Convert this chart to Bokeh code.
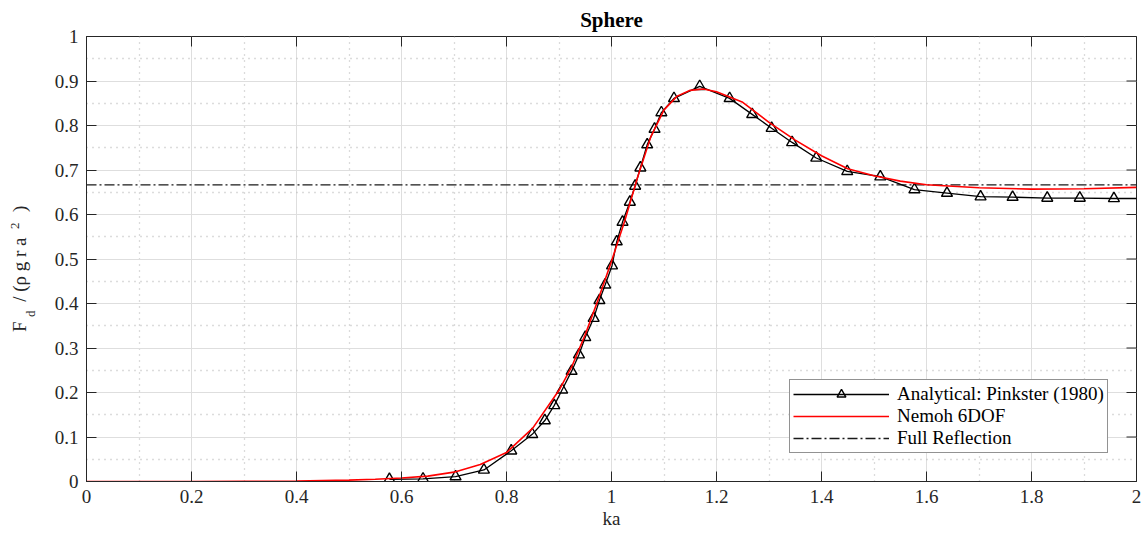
import math
import numpy as np
from bokeh.plotting import figure
from bokeh.layouts import row
from bokeh.models import (Range1d, FixedTicker, NumeralTickFormatter,
                          Legend, LegendItem)
from bokeh.core.properties import value
from bokeh.embed import file_html
from bokeh.resources import INLINE

# ---------------- data ----------------
ka_analytical = [0.577, 0.641, 0.703, 0.757, 0.809, 0.849, 0.873, 0.891, 0.906, 0.924,
                 0.938, 0.950, 0.966, 0.977, 0.988, 1.001, 1.010, 1.021, 1.035, 1.045,
                 1.055, 1.068, 1.082, 1.095, 1.119, 1.168, 1.225, 1.268, 1.305, 1.344,
                 1.390, 1.449, 1.512, 1.577, 1.639, 1.703, 1.764, 1.830, 1.892, 1.957, 2.02]
fd_analytical = [0.005, 0.006, 0.011, 0.026, 0.069, 0.106, 0.137, 0.171, 0.206, 0.248,
                 0.285, 0.324, 0.367, 0.407, 0.442, 0.485, 0.539, 0.583, 0.628, 0.664,
                 0.705, 0.757, 0.792, 0.829, 0.861, 0.888, 0.861, 0.825, 0.794, 0.762,
                 0.727, 0.697, 0.685, 0.656, 0.648, 0.640, 0.639, 0.637, 0.637, 0.636, 0.636]

ka_nemoh = [0.0, 0.1, 0.2, 0.3, 0.4, 0.5, 0.55, 0.6, 0.65, 0.7, 0.75, 0.8, 0.85, 0.9,
            0.925, 0.95, 0.975, 1.0, 1.025, 1.05, 1.075, 1.1, 1.125, 1.15, 1.175, 1.2,
            1.25, 1.3, 1.35, 1.4, 1.45, 1.5, 1.55, 1.6, 1.7, 1.8, 1.9, 2.0]
fd_nemoh = [0.0, 0.0, 0.0, 0.0005, 0.001, 0.003, 0.005, 0.008, 0.012, 0.021, 0.038, 0.065,
            0.12, 0.205, 0.26, 0.33, 0.41, 0.495, 0.585, 0.685, 0.775, 0.835, 0.866, 0.879,
            0.882, 0.876, 0.852, 0.807, 0.767, 0.732, 0.703, 0.687, 0.675, 0.667, 0.660,
            0.657, 0.658, 0.661]

ka_full = [0.0, 2.0]
fd_full = [2.0 / 3.0, 2.0 / 3.0]

x_ticks = [0, 0.2, 0.4, 0.6, 0.8, 1.0, 1.2, 1.4, 1.6, 1.8, 2.0]
y_ticks = [0, 0.1, 0.2, 0.3, 0.4, 0.5, 0.6, 0.7, 0.8, 0.9, 1.0]
x_minor = [0.1, 0.3, 0.5, 0.7, 0.9, 1.1, 1.3, 1.5, 1.7, 1.9]
y_minor = [0.05, 0.15, 0.25, 0.35, 0.45, 0.55, 0.65, 0.75, 0.85, 0.95]

# y-label pieces (text, size) : F_d / (rho g r a^2)
ylabel_text = ["F", "d", "/ (\u03c1 g r a", "2", ")"]

FONT = "'Liberation Serif', 'Times New Roman', serif"
AX = "#262626"
TOP_B, BOT_B = 35, 53
FW, FH = 1050, 445

p = figure(frame_width=FW, frame_height=FH,
           x_range=Range1d(0, 2), y_range=Range1d(0, 1),
           output_backend="svg", toolbar_location=None,
           min_border_left=46, min_border_right=5, min_border_top=TOP_B, min_border_bottom=BOT_B,
           background_fill_color="white", border_fill_color="white")
p.outline_line_color = AX
p.outline_line_width = 1

p.title.text = "Sphere"
p.title.align = "center"
p.title.text_font = FONT
p.title.text_font_size = "21px"
p.title.text_font_style = "bold"
p.title.text_color = "black"

xt = FixedTicker(ticks=x_ticks, minor_ticks=x_minor)
yt = FixedTicker(ticks=y_ticks, minor_ticks=y_minor)
p.xaxis.ticker = xt
p.yaxis.ticker = yt

fmt = NumeralTickFormatter(format="0.[0]")
for ax in (p.xaxis[0], p.yaxis[0]):
    ax.formatter = fmt
    ax.major_tick_in = 10
    ax.major_tick_out = 0
    ax.minor_tick_in = 0
    ax.minor_tick_out = 0
    ax.axis_line_color = AX
    ax.major_tick_line_color = AX
    ax.major_label_text_font = FONT
    ax.major_label_text_font_size = "19px"
    ax.major_label_text_color = AX
    ax.axis_label_text_font = FONT
    ax.axis_label_text_font_size = "19px"
    ax.axis_label_text_font_style = "normal"
    ax.axis_label_text_color = AX

p.xaxis.axis_label = "ka"
p.xaxis.major_label_standoff = 8
p.xaxis.axis_label_standoff = 2
p.yaxis.major_label_standoff = 8

for g in (p.xgrid[0], p.ygrid[0]):
    g.grid_line_color = "#dedede"
    g.grid_line_width = 1
    g.minor_grid_line_color = "#b8b8b8"
    g.minor_grid_line_dash = "1 5"
    g.minor_grid_line_width = 1.3

# box ticks on top and right edges (half of each dash is clipped by the frame)
p.scatter(x_ticks, [y_ticks[-1]] * len(x_ticks), marker="dash", size=20, angle=math.pi / 2,
          line_color=AX, line_width=1)
p.scatter([x_ticks[-1]] * len(y_ticks), y_ticks, marker="dash", size=20,
          line_color=AX, line_width=1)

# ---------------- glyphs ----------------
l_full = p.line(ka_full, fd_full, line_color="#1a1a1a", line_width=1.4, line_dash="10 3 2 3")
l_an = p.line(ka_analytical, fd_analytical, line_color="black", line_width=1.3)
s_an = p.scatter(ka_analytical, fd_analytical, marker="triangle", size=11,
                 line_color="black", fill_color=None, line_width=1.4)
l_nem = p.line(ka_nemoh, fd_nemoh, line_color="#ff0000", line_width=1.6)

legend = Legend(items=[
    LegendItem(label="Analytical: Pinkster (1980)", renderers=[l_an, s_an]),
    LegendItem(label="Nemoh 6DOF", renderers=[l_nem]),
    LegendItem(label="Full Reflection", renderers=[l_full]),
], location=(703, 28))
legend.label_text_font = FONT
legend.label_text_font_size = "19px"
legend.label_text_color = "black"
legend.border_line_color = AX
legend.border_line_width = 1.2
legend.background_fill_color = "white"
legend.background_fill_alpha = 1
legend.padding = 3
legend.spacing = 0
legend.glyph_width = 96
legend.glyph_height = 22
legend.label_height = 22
legend.label_standoff = 8
legend.margin = 0
p.add_layout(legend, "center")

# ---------------- y label panel ----------------
lf = figure(frame_width=40, frame_height=FH, x_range=Range1d(0, 40), y_range=Range1d(0, 1),
            output_backend="svg", toolbar_location=None,
            min_border_left=0, min_border_right=0, min_border_top=TOP_B, min_border_bottom=BOT_B,
            background_fill_color="white", border_fill_color="white")
lf.axis.visible = False
lf.grid.visible = False
lf.outline_line_color = None
lx = [19, 30, 19, 14, 19]
ly = [0.348, 0.377, 0.476, 0.575, 0.613]
lsz = ["19px", "13px", "19px", "13px", "19px"]
lf.text(x=lx, y=ly, text=ylabel_text, angle=math.pi / 2, text_align="center",
        text_baseline="middle", text_font=value(FONT), text_font_size=lsz, text_color=AX)

layout = row(lf, p, spacing=0)
open("out.html", "w").write(file_html(layout, INLINE))
